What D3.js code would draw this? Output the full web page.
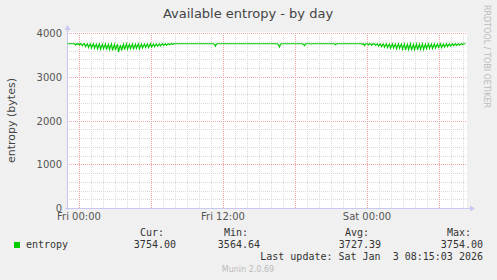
<!DOCTYPE html>
<meta charset="UTF-8">
<style>
    body { margin: 0; background: #f0f0f0; }
    svg text { font-family: "DejaVu Sans", sans-serif; }
    .mono { font-family: "DejaVu Sans Mono", monospace; font-size: 10px; fill: #333; white-space: pre; }
</style>
<body>
<div id="chart"></div>
<script src="https://d3js.org/d3.v7.min.js"></script>
<script>
    // 5-minute samples, first one at Thu 1 Jan 2026 23:00 UTC
    var startTime = Date.UTC(2026, 0, 1, 23, 0);
    var endTime = Date.UTC(2026, 0, 3, 8, 20);
    var stepMinutes = 5;

    var entropy = [
        3754,3754,3754,3754,3754,3754,3754,3754,3730,3754,
        3742,3754,3722,3754,3748,3712,3750,3754,
        3690,3728,3752, 3670,3720,3748, 3660,3712,3750, 3650,3708,3744,
        3640,3702,3750, 3630,3696,3742, 3640,3700,3748, 3620,3690,3740,
        3625,3695,3750, 3600,3680,3738, 3610,3688,3746, 3565,3660,3730,
        3600,3680,3744, 3620,3692,3750, 3630,3696,3740, 3640,3700,3748,
        3625,3694,3742, 3650,3706,3750, 3640,3700,3744, 3660,3710,3750,
        3670,3716,3746, 3665,3712,3752, 3680,3720,3748, 3690,3726,3752,
        3700,3730,3750, 3705,3734,3754, 3715,3740,3752, 3720,3742,3754,
        3730,3746,3754, 3740,3750,3754,
        3754,3754,
        3754,3754,3754,3754,3754,3754,3754,3754,3754,3754,
        3754,3754,3754,3754,3754,3754,3754,3754,3754,3754,
        3754,3754,3754,3754,3754,3754,3754,3754,3754,3754,
        3754,3754,3754,3754,3754,3754,3754,3740,3700,3748,
        3754,3754,3754,3754,3754,3754,3754,3754,3754,3754,
        3754,3754,3754,3754,3754,3754,3754,3754,3754,3754,
        3754,3754,3754,3754,3754,3754,3754,3754,3754,3754,
        3754,3754,3754,3754,3754,3754,3754,3754,3754,3754,
        3754,3754,3754,3754,3754,3754,3754,3754,3754,3754,
        3754,3754,3754,3754,3754,3754,3754,3754,3754,3754,
        3754,3730,3680,3744,3754,3754,3754,3754,3754,3754,
        3754,3754,3754,3754,3754,3754,3754,3754,3754,3754,
        3754,3754,3754,3754,3754,3754,3738,3710,3750,3754,
        3754,3754,3754,3754,3754,3754,3754,3754,3754,3754,
        3754,3754,3754,3754,3754,3754,3754,3754,3754,3754,
        3754,3754,3754,3754,3754,3754,3754,3754,3732,3754,
        3754,3754,3754,3754,3754,3754,3754,3754,3754,3754,
        3754,3754,3754,3754,3754,3754,3754,3754,3754,3754,
        3754,3754,3754,3754,3754,
        3740,3754,3712,3748,3754,3754,3730,3754,3750,3722,3754,3744,3754,
        3720,3740,3752, 3700,3730,3750, 3690,3726,3748, 3676,3718,3752,
        3668,3714,3746, 3655,3706,3750, 3660,3710,3744, 3640,3700,3750,
        3650,3706,3742, 3630,3694,3748, 3612,3684,3740, 3625,3690,3750,
        3605,3680,3738, 3620,3688,3748, 3615,3686,3742, 3630,3694,3750,
        3625,3690,3744, 3640,3700,3752, 3650,3706,3746, 3645,3702,3750,
        3660,3710,3748, 3670,3716,3752, 3665,3712,3748, 3680,3720,3754,
        3690,3726,3750, 3700,3730,3754, 3710,3736,3752, 3715,3740,3754,
        3725,3744,3754, 3735,3748,3754,
        3754
    ];

    var yTicks = [0, 1000, 2000, 3000, 4000];
    var legendHeads = ["Cur:", "Min:", "Avg:", "Max:"];
    var legendValues = ["3754.00", "3564.64", "3727.39", "3754.00"];
    var seriesName = "entropy";
    var lastUpdate = "Last update: Sat Jan  3 08:15:03 2026";

    var W = 497, H = 280;
    var margin = {left: 67, top: 33, right: 30, bottom: 72};
    var plotW = 400, plotH = 175;

    var svg = d3.select("#chart").append("svg")
            .attr("width", W)
            .attr("height", H);

    var x = d3.scaleUtc().domain([startTime, endTime]).range([margin.left, margin.left + plotW]);
    var y = d3.scaleLinear().domain([0, 4000]).range([margin.top + plotH, margin.top]);

    // plot background
    svg.append("rect")
            .attr("x", margin.left).attr("y", margin.top - 1)
            .attr("width", plotW).attr("height", plotH + 1)
            .attr("fill", "#fff");

    var gMinor = d3.range(0, 4001, 200).filter(function (v) { return v % 1000 != 0; });
    var hours = d3.utcHour.every(1).range(new Date(startTime), new Date(endTime));

    // minor grid
    var minorCol = "#dadada", majorCol = "#f4a4a4";
    svg.append("g").selectAll("line")
            .data(hours.filter(function (d) { return d.getUTCHours() % 6 != 0; }))
            .enter().append("line")
            .attr("x1", function (d) { return Math.round(x(d)) + 0.5; })
            .attr("x2", function (d) { return Math.round(x(d)) + 0.5; })
            .attr("y1", margin.top).attr("y2", margin.top + plotH)
            .attr("stroke", minorCol).attr("stroke-dasharray", "1,1");
    svg.append("g").selectAll("line")
            .data(gMinor)
            .enter().append("line")
            .attr("x1", margin.left).attr("x2", margin.left + plotW)
            .attr("y1", function (d) { return Math.round(y(d)) + 0.5; })
            .attr("y2", function (d) { return Math.round(y(d)) + 0.5; })
            .attr("stroke", minorCol).attr("stroke-dasharray", "1,1");

    // major grid
    svg.append("g").selectAll("line")
            .data(hours.filter(function (d) { return d.getUTCHours() % 6 == 0; }))
            .enter().append("line")
            .attr("x1", function (d) { return Math.round(x(d)) + 0.5; })
            .attr("x2", function (d) { return Math.round(x(d)) + 0.5; })
            .attr("y1", margin.top).attr("y2", margin.top + plotH)
            .attr("stroke", majorCol).attr("stroke-dasharray", "1,1");
    svg.append("g").selectAll("line")
            .data(yTicks)
            .enter().append("line")
            .attr("x1", margin.left).attr("x2", margin.left + plotW)
            .attr("y1", function (d) { return Math.round(y(d)) + 0.5; })
            .attr("y2", function (d) { return Math.round(y(d)) + 0.5; })
            .attr("stroke", majorCol).attr("stroke-dasharray", "1,1");

    // axes lines with arrows
    var axisCol = "#c8c8f0";
    svg.append("line")
            .attr("x1", margin.left + 0.5).attr("x2", margin.left + 0.5)
            .attr("y1", margin.top + plotH + 2).attr("y2", margin.top - 6)
            .attr("stroke", axisCol);
    svg.append("path")
            .attr("d", "M" + (margin.left - 2.5) + "," + (margin.top - 3) + "L" + (margin.left + 0.5) + "," + (margin.top - 8) + "L" + (margin.left + 3.5) + "," + (margin.top - 3) + "Z")
            .attr("fill", axisCol);
    svg.append("line")
            .attr("x1", margin.left - 2).attr("x2", margin.left + plotW + 5)
            .attr("y1", margin.top + plotH + 0.5).attr("y2", margin.top + plotH + 0.5)
            .attr("stroke", axisCol);
    svg.append("path")
            .attr("d", "M" + (margin.left + plotW + 3) + "," + (margin.top + plotH - 2.5) + "L" + (margin.left + plotW + 8) + "," + (margin.top + plotH + 0.5) + "L" + (margin.left + plotW + 3) + "," + (margin.top + plotH + 3.5) + "Z")
            .attr("fill", axisCol);

    // tick labels
    svg.append("g").selectAll("text")
            .data(yTicks)
            .enter().append("text")
            .attr("x", margin.left - 5)
            .attr("y", function (d) { return y(d) + 4; })
            .attr("text-anchor", "end")
            .attr("font-size", "10px")
            .attr("fill", "#555")
            .text(function (d) { return d; });

    var fmt = d3.utcFormat("%a %H:%M");
    svg.append("g").selectAll("text")
            .data(hours.filter(function (d) { return d.getUTCHours() % 12 == 0; }))
            .enter().append("text")
            .attr("x", function (d) { return x(d); })
            .attr("y", margin.top + plotH + 12)
            .attr("text-anchor", "middle")
            .attr("font-size", "10px")
            .attr("fill", "#555")
            .text(fmt);

    // series line
    var line = d3.line()
            .x(function (d, i) { return x(startTime + i * stepMinutes * 60000) + 0.5; })
            .y(function (d) { return y(d); });
    svg.append("path")
            .datum(entropy)
            .attr("d", line)
            .attr("fill", "none")
            .attr("stroke", "#00cc00")
            .attr("stroke-width", 1.2);

    // titles
    svg.append("text")
            .attr("x", 248).attr("y", 18)
            .attr("text-anchor", "middle")
            .attr("font-size", "13px")
            .attr("fill", "#444")
            .text("Available entropy - by day");
    svg.append("text")
            .attr("transform", "translate(15," + (margin.top + plotH / 2) + ") rotate(-90)")
            .attr("text-anchor", "middle")
            .attr("font-size", "11px")
            .attr("fill", "#444")
            .text("entropy (bytes)");
    svg.append("text")
            .attr("transform", "translate(484,5) rotate(90)")
            .attr("font-size", "8px")
            .attr("fill", "#bbb")
            .text("RRDTOOL / TOBI OETIKER");

    // legend
    svg.append("rect")
            .attr("x", 14).attr("y", 242)
            .attr("width", 6).attr("height", 6)
            .attr("fill", "#00cc00");
    svg.append("text").attr("class", "mono")
            .attr("x", 26).attr("y", 248)
            .text(seriesName);
    var colEnd = [176, 260, 381, 483];
    svg.append("g").selectAll("text")
            .data(legendHeads)
            .enter().append("text")
            .attr("class", "mono")
            .attr("x", function (d, i) { return colEnd[i] - 12; })
            .attr("y", 236)
            .attr("text-anchor", "end")
            .text(function (d) { return d; });
    svg.append("g").selectAll("text")
            .data(legendValues)
            .enter().append("text")
            .attr("class", "mono")
            .attr("x", function (d, i) { return colEnd[i]; })
            .attr("y", 248)
            .attr("text-anchor", "end")
            .text(function (d) { return d; });
    svg.append("text").attr("class", "mono")
            .attr("x", 483).attr("y", 260)
            .attr("text-anchor", "end")
            .text(lastUpdate);

    svg.append("text")
            .attr("x", 248).attr("y", 272)
            .attr("text-anchor", "middle")
            .attr("font-size", "8px")
            .attr("fill", "#bbb")
            .text("Munin 2.0.69");
</script>
</body>
